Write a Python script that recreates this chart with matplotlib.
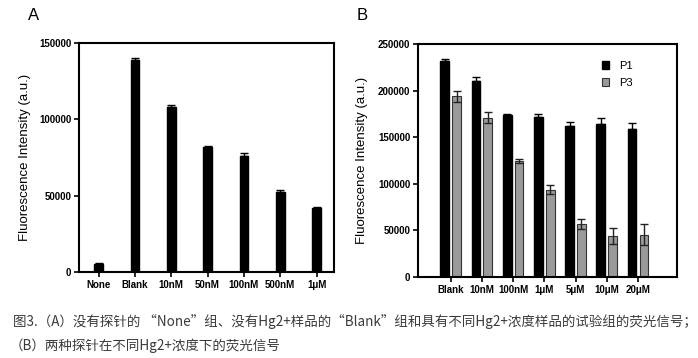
import matplotlib
matplotlib.use("Agg")
import matplotlib.pyplot as plt
import numpy as np

plt.rcParams['font.family'] = ['Liberation Sans', 'DejaVu Sans']

# panel A
cats_a = ["None", "Blank", "10nM", "50nM", "100nM", "500nM", "1μM"]
vals_a = [5200, 139000, 108000, 81900, 75800, 52600, 42000]
err_a = [900, 900, 1500, 700, 2000, 900, 600]

# panel B
cats_b = ["Blank", "10nM", "100nM", "1μM", "5μM", "10μM", "20μM"]
p1 = [231700, 210500, 173600, 171800, 161800, 163900, 158500]
p1_err = [2500, 4000, 1500, 3200, 4300, 6500, 6800]
p3 = [193700, 171100, 124100, 93600, 57000, 44500, 45500]
p3_err = [5400, 5700, 2000, 5000, 5400, 8600, 11500]

W, H = 698, 358
fig = plt.figure(figsize=(W / 100, H / 100), dpi=100)
fig.patch.set_facecolor("white")


def style(ax):
    for s in ax.spines.values():
        s.set_linewidth(1.5)
    ax.tick_params(axis="both", direction="out", length=3.5, width=1.2, pad=2)
    for lab in ax.get_xticklabels() + ax.get_yticklabels():
        lab.set_fontweight("bold")
        lab.set_fontsize(7)


axA = fig.add_axes([79 / W, (H - 272) / H, 255 / W, 229 / H])
x = np.arange(len(cats_a))
axA.bar(x, vals_a, width=0.24, color="black", edgecolor="black")
axA.errorbar(x, vals_a, yerr=[np.zeros(len(x)), err_a], fmt="none",
             ecolor="black", elinewidth=1, capsize=3, capthick=1)
axA.set_xlim(-0.54, 6.48)
axA.set_ylim(0, 150000)
axA.set_yticks([0, 50000, 100000, 150000])
axA.set_xticks(x)
axA.set_xticklabels(cats_a)
axA.set_ylabel("Fluorescence Intensity (a.u.)", fontsize=9.5)
axA.yaxis.set_label_coords(-0.188, 0.5)
style(axA)

axB = fig.add_axes([418 / W, (H - 277) / H, 259 / W, 233 / H])
xb = np.arange(len(cats_b))
off = 0.19
bw = 0.28
axB.bar(xb - off, p1, width=bw, color="black", edgecolor="black", label="P1")
axB.bar(xb + off, p3, width=bw, color="#9a9a9a", edgecolor="#333333",
        linewidth=0.8, label="P3")
axB.errorbar(xb - off, p1, yerr=[np.zeros(len(xb)), p1_err], fmt="none",
             ecolor="black", elinewidth=1, capsize=3, capthick=1)
axB.errorbar(xb + off, p3, yerr=p3_err, fmt="none",
             ecolor="#222222", elinewidth=1, capsize=3, capthick=1)
axB.set_xlim(-1.045, 7.25)
axB.set_ylim(0, 250000)
axB.set_yticks(np.arange(0, 250001, 50000))
axB.set_xticks(xb)
axB.set_xticklabels(cats_b)
axB.set_ylabel("Fluorescence Intensity (a.u.)", fontsize=9.5)
axB.yaxis.set_label_coords(-0.193, 0.5)
style(axB)
axB.legend(loc="upper left", bbox_to_anchor=(0.67, 0.97), frameon=False,
           fontsize=8, handlelength=0.7, handleheight=0.7, handletextpad=0.9,
           labelspacing=0.6)

fig.text(34 / W, 1 - 15 / H, "A", fontsize=12, ha="center", va="center")
fig.text(362 / W, 1 - 15 / H, "B", fontsize=12, ha="center", va="center")

cap_font = ['Noto Sans CJK SC', 'DejaVu Sans']
fig.text(13 / W, 1 - 321 / H,
         "图3.（A）没有探针的 “None”组、没有Hg2+样品的“Blank”组和具有不同Hg2+浓度样品的试验组的荧光信号；",
         fontsize=9.7, family=cap_font, color="#3a3a3a", va="center", ha="left")
fig.text(10 / W, 1 - 346 / H, "（B）两种探针在不同Hg2+浓度下的荧光信号",
         fontsize=9.7, family=cap_font, color="#3a3a3a", va="center", ha="left")

fig.savefig("out.png", dpi=100)
